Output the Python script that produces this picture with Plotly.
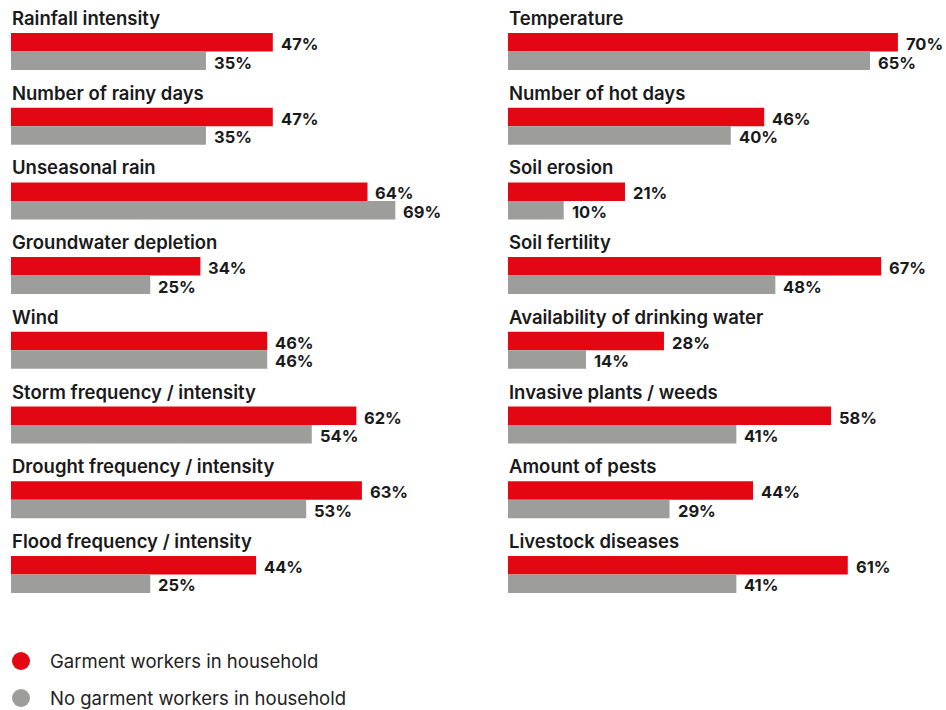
import plotly.graph_objects as go

# Left column of climate impacts
left_labels = [
    "Rainfall intensity",
    "Number of rainy days",
    "Unseasonal rain",
    "Groundwater depletion",
    "Wind",
    "Storm frequency / intensity",
    "Drought frequency / intensity",
    "Flood frequency / intensity",
]
left_garment = [47, 47, 64, 34, 46, 62, 63, 44]
left_no_garment = [35, 35, 69, 25, 46, 54, 53, 25]

# Right column of climate impacts
right_labels = [
    "Temperature",
    "Number of hot days",
    "Soil erosion",
    "Soil fertility",
    "Availability of drinking water",
    "Invasive plants / weeds",
    "Amount of pests",
    "Livestock diseases",
]
right_garment = [70, 46, 21, 67, 28, 58, 44, 61]
right_no_garment = [65, 40, 10, 48, 14, 41, 29, 41]

series_names = ["Garment workers in household", "No garment workers in household"]

RED = "#E30613"
GREY = "#9D9D9C"
TEXT = "#1A1A1A"
FONT = "Inter"

W, H = 946, 710
PX_PER_PCT = 5.57
X_MAX = 78

fig = go.Figure()

panels = [
    ("x", "y", left_labels, left_garment, left_no_garment),
    ("x2", "y2", right_labels, right_garment, right_no_garment),
]

annotations = []
for xa, ya, labels, garment, no_garment in panels:
    for vals, color, shift in ((garment, RED, 7.5), (no_garment, GREY, -11.0)):
        fig.add_trace(go.Bar(
            x=vals, y=labels, orientation="h",
            marker=dict(color=color, line=dict(width=0)),
            xaxis=xa, yaxis=ya, showlegend=False, hoverinfo="skip",
        ))
        for lab, v in zip(labels, vals):
            annotations.append(dict(
                x=v, y=lab, xref=xa, yref=ya, text=f"{v}%",
                xanchor="left", yanchor="middle", xshift=6, yshift=shift,
                showarrow=False,
                font=dict(family=FONT, size=16.5, color=TEXT, weight=700),
            ))
    for lab in labels:
        annotations.append(dict(
            x=0, y=lab, xref=xa, yref=ya, text=lab,
            xanchor="left", yanchor="middle", xshift=-1, yshift=33.5,
            showarrow=False,
            font=dict(family=FONT, size=18.5, color=TEXT, weight=600),
        ))

# Key: one circle per series with its name beside it
fig.add_trace(go.Scatter(
    x=[0, 0], y=series_names, mode="markers",
    marker=dict(color=[RED, GREY], size=18, symbol="circle", line=dict(width=0)),
    xaxis="x3", yaxis="y3", showlegend=False, hoverinfo="skip",
    cliponaxis=False,
))
for name in series_names:
    annotations.append(dict(
        x=0, y=name, xref="x3", yref="y3", text=name,
        xanchor="left", yanchor="middle", xshift=27, yshift=0,
        showarrow=False,
        font=dict(family=FONT, size=18.5, color="#222222"),
    ))

y_top = 14.15
y_bot = 611.75
ydom = [(H - y_bot) / H, (H - y_top) / H]

left_x0 = 11
right_x0 = 508
span = PX_PER_PCT * X_MAX

key_top = 642.5   # top edge of the key area
key_pitch = 37.0  # spacing between key rows
key_x = 21        # key circle centre

fig.update_layout(
    width=W, height=H,
    margin=dict(l=0, r=0, t=0, b=0, autoexpand=False),
    paper_bgcolor="white", plot_bgcolor="white",
    barmode="group", bargap=0.505, bargroupgap=0,
    font=dict(family=FONT, color=TEXT),
    showlegend=False,
    xaxis=dict(domain=[left_x0 / W, (left_x0 + span) / W], range=[0, X_MAX],
               visible=False, fixedrange=True),
    xaxis2=dict(domain=[right_x0 / W, (right_x0 + span) / W], range=[0, X_MAX],
                visible=False, anchor="y2", fixedrange=True),
    yaxis=dict(domain=ydom, type="category", categoryorder="array",
               categoryarray=left_labels, range=[7.5, -0.5], visible=False,
               anchor="x"),
    yaxis2=dict(domain=ydom, type="category", categoryorder="array",
                categoryarray=right_labels, range=[7.5, -0.5], visible=False,
                anchor="x2"),
    xaxis3=dict(domain=[0, 1], range=[-key_x, W - key_x], visible=False,
                anchor="y3", fixedrange=True),
    yaxis3=dict(domain=[0, (H - key_top) / H], type="category",
                categoryorder="array", categoryarray=series_names,
                range=[-0.5 + (H - key_top) / key_pitch, -0.5],
                visible=False, anchor="x3", fixedrange=True),
    annotations=annotations,
)

fig.write_html("out.html")
